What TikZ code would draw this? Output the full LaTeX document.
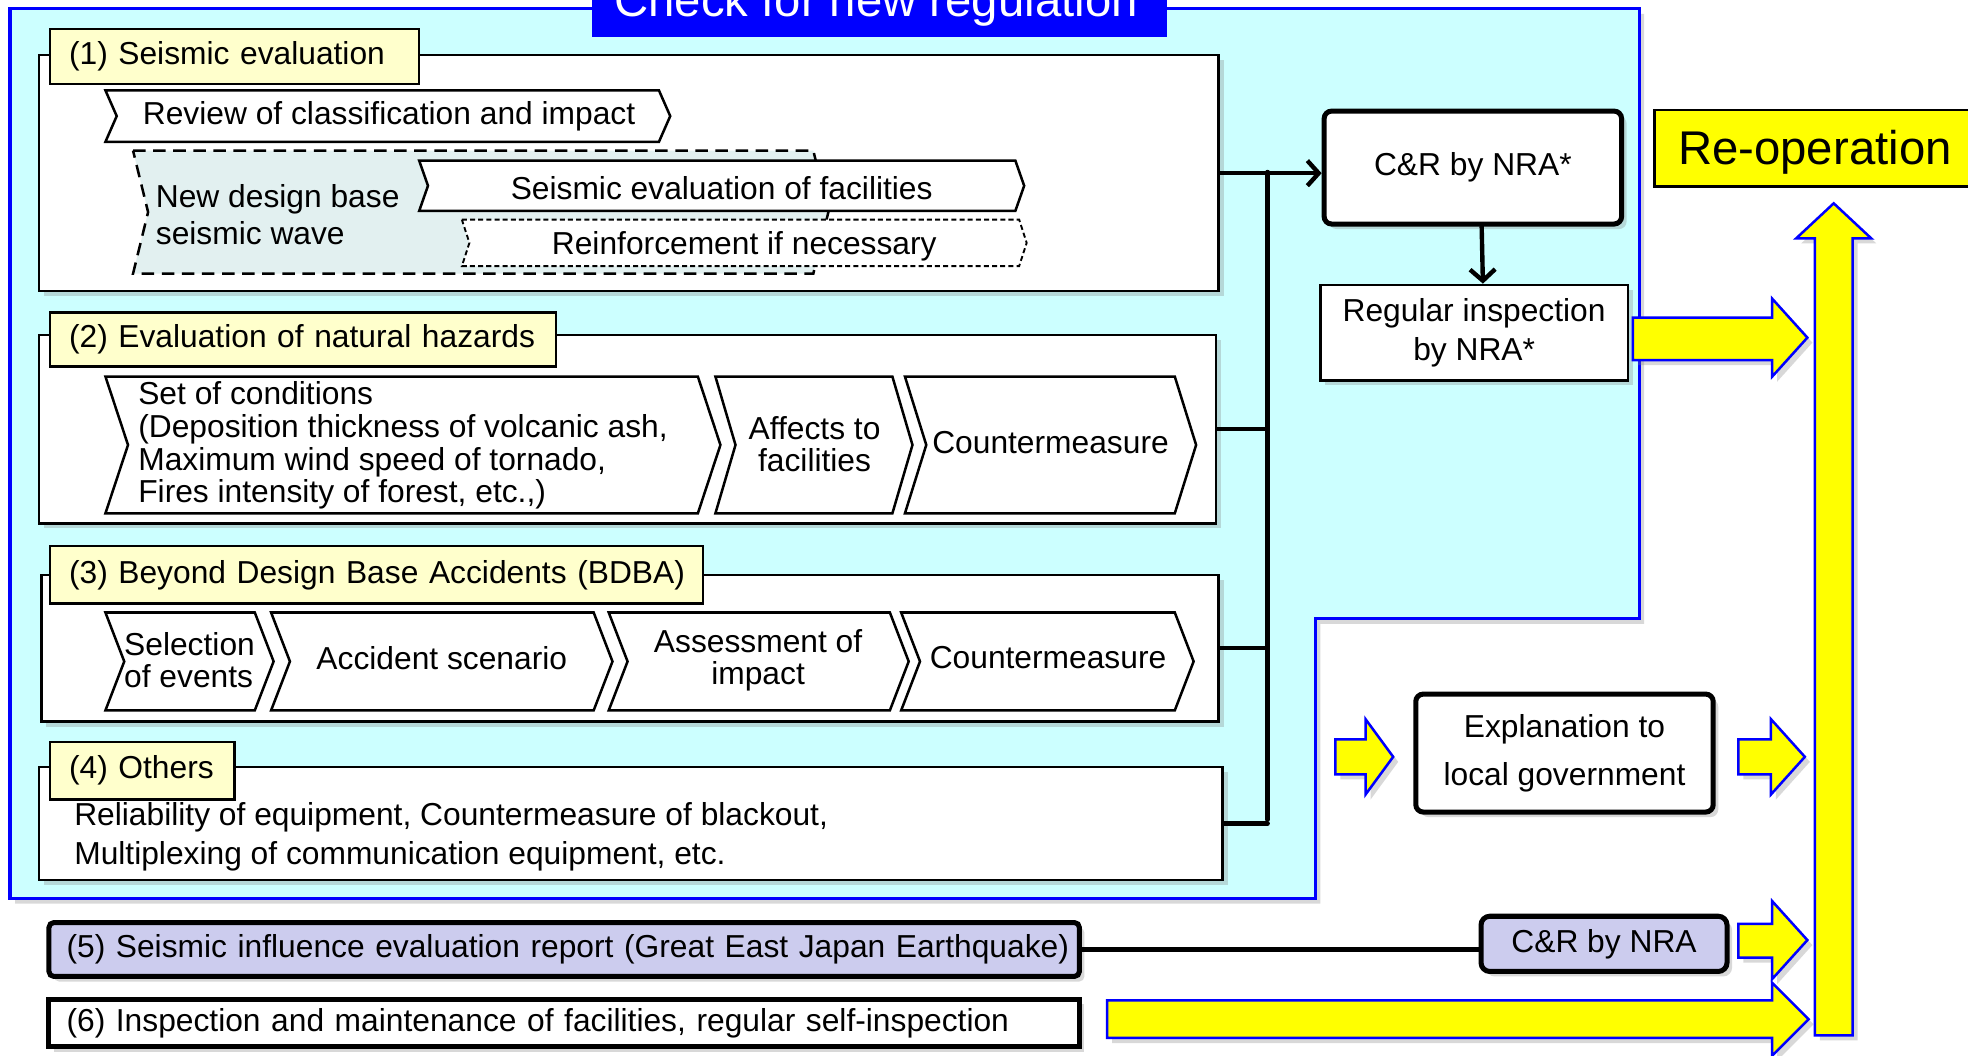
\documentclass[tikz,border=0pt]{standalone}
\usepackage{fontspec}
\setmainfont{Liberation Sans}
\usetikzlibrary{shadows,arrows.meta}
\definecolor{cyanbg}{HTML}{CCFFFF}
\definecolor{bluebd}{HTML}{0000FF}
\definecolor{lblfill}{HTML}{FFFFCC}
\definecolor{lav}{HTML}{CCCCEE}
\definecolor{tealfill}{HTML}{E2F0F0}
\definecolor{yel}{HTML}{FFFF00}
\newcommand\mychev[6][]{%
  \draw[chevst,#1] (#2,#4) -- ({#3-#6},#4) -- (#3,{(#4+#5)/2}) -- ({#3-#6},#5) -- (#2,#5) -- ({#2+#6},{(#4+#5)/2}) -- cycle;}
\tikzset{
  shad/.style={drop shadow={opacity=0.3, shadow xshift=4pt, shadow yshift=-4pt}},
  secbox/.style={draw, line width=2, fill=white, shad, inner sep=0, anchor=north west},
  lblbox/.style={draw, line width=2, fill=lblfill, anchor=north west, align=left, inner xsep=15, inner ysep=0},
  chevst/.style={draw, line width=2, fill=white, line join=miter},
  conn/.style={line width=3.5, line cap=round},
  bigarrow/.style={fill=yel, draw=bluebd, line width=2, line join=miter, shad},
  txt/.style={inner sep=0},
  barb/.style={-{Straight Barb[length=9pt, width=20pt, line width=3.5pt]}}
}
\begin{document}
\begin{tikzpicture}[x=1pt,y=-1pt,font=\fontsize{25.3}{30}\selectfont]
\useasboundingbox (0,0) rectangle (1568,841);
\clip (0,0) rectangle (1568,841);
\fill[white] (0,0) rectangle (1568,841);

% cyan region
\draw[fill=cyanbg, draw=bluebd, line width=2.5, shad] (8,7) -- (1306,7) -- (1306,493) -- (1048,493) -- (1048,716) -- (8,716) -- cycle;

% title
\node[fill=bluebd, minimum width=458, minimum height=80, anchor=south, inner sep=0] (titlebox) at (701,30) {};
\node[txt, text=white, font=\fontsize{37.7}{40}\selectfont, anchor=base] (title) at (698,13) {Check for new regulation};

% ---------- section 1
\node[secbox, minimum width=940, minimum height=188] (s1) at (30,43) {};
\node[lblbox, text width=264, minimum height=44] (l1) at (39,22) {\mbox{(1) Seismic evaluation}};
\mychev{84}{534}{72}{113}{9}
\node[txt] (t1a) at (310,93) {Review of classification and impact};
\mychev[fill=tealfill, dash pattern=on 10pt off 6pt]{106}{660}{120}{218}{12}
\node[txt, align=left, anchor=west, font=\fontsize{25.3}{30}\selectfont] (t1b) at (124,171) {New design base\\seismic wave};
\mychev{334}{816}{128}{168}{7}
\node[txt] (t1c) at (575,150) {Seismic evaluation of facilities};
\mychev[dash pattern=on 4pt off 2.5pt, line width=1.5]{368}{818}{175}{212}{6}
\node[txt] (t1d) at (593,196) {Reinforcement if necessary};

% ---------- section 2
\node[secbox, minimum width=938, minimum height=150] (s2) at (30,266) {};
\node[lblbox, text width=373, minimum height=43] (l2) at (39,248) {\mbox{(2) Evaluation of natural hazards}};
\mychev{84}{574}{300}{409}{18}
\node[txt, align=left, anchor=west, font=\fontsize{25.3}{26}\selectfont] (t2a) at (110,355) {Set of conditions\\(Deposition thickness of volcanic ash,\\Maximum wind speed of tornado,\\Fires intensity of forest, etc.,)};
\mychev{570}{727}{300}{409}{16}
\node[txt, align=center, font=\fontsize{25.3}{26}\selectfont] (t2b) at (649,354) {Affects to\\facilities};
\mychev{721}{953}{300}{409}{17}
\node[txt] (t2c) at (837,353) {Countermeasure};

% ---------- section 3
\node[secbox, minimum width=938, minimum height=117] (s3) at (32,457) {};
\node[lblbox, text width=490, minimum height=46] (l3) at (39,434) {\mbox{(3) Beyond Design Base Accidents (BDBA)}};
\mychev{84}{218}{488}{566}{15}
\node[txt, align=left, font=\fontsize{25.3}{26}\selectfont] (t3a) at (151,526) {Selection\\of events};
\mychev{216}{488}{488}{566}{15}
\node[txt] (t3b) at (352,524) {Accident scenario};
\mychev{485}{724}{488}{566}{15}
\node[txt, align=center, font=\fontsize{25.3}{26}\selectfont] (t3c) at (604,526) {Assessment of\\impact};
\mychev{718}{951}{488}{566}{15}
\node[txt] (t3d) at (835,524) {Countermeasure};

% ---------- section 4
\node[secbox, minimum width=943, minimum height=90] (s4) at (30,610) {};
\node[lblbox, text width=117, minimum height=46] (l4) at (39,590) {\mbox{(4) Others}};
\node[txt, align=left, anchor=west, font=\fontsize{25.3}{31}\selectfont] (t4) at (59,667) {Reliability of equipment, Countermeasure of blackout,\\Multiplexing of communication equipment, etc.};

% ---------- C&R and regular inspection
\node[draw, line width=4, rounded corners=6, fill=white, minimum width=237, minimum height=90, shad] (cr) at (1173.5,133.5) {C\&R by NRA*};
\node[draw, line width=2, fill=white, minimum width=245, minimum height=76, align=center, font=\fontsize{25.3}{31}\selectfont, shad] (ri) at (1174.5,265) {Regular inspection\\by NRA*};
\draw[conn, barb] ([xshift=7pt]cr.south) -- ([xshift=7pt]ri.north);

% junction connectors
\coordinate (jtop) at (1010,137);
\coordinate (jbot) at (1010,653);
\draw[conn, barb] (s1.east) -- (s1.east -| cr.west);
\draw[conn] (jtop) -- (jbot);
\draw[conn] (s2.east) -- (s2.east -| jtop);
\draw[conn] (s3.east) -- (s3.east -| jtop);
\draw[conn] (s4.east) -- (s4.east -| jtop);

% ---------- re-operation
\node[draw, line width=2, fill=yel, minimum width=256, minimum height=61, inner sep=0] (reop) at (1446,118) {};
\node[txt, font=\fontsize{37.7}{40}\selectfont, anchor=base] (reoptxt) at (1446,131) {Re-operation};
\draw[bigarrow] (1446,825) -- (1446,190) -- (1431,190) -- (1461,162) -- (1491,190) -- (1476,190) -- (1476,825) -- cycle;

% arrow from regular inspection
\draw[bigarrow] (1301,253) -- (1412,253) -- (1412,238) -- (1440,269) -- (1412,300) -- (1412,287) -- (1301,287) -- cycle;

% explanation
\draw[bigarrow] (1064,589) -- (1088,589) -- (1088,573) -- (1110,603) -- (1088,633) -- (1088,617) -- (1064,617) -- cycle;
\node[draw, line width=4, rounded corners=6, fill=white, minimum width=237, minimum height=94, align=center, font=\fontsize{25.3}{38}\selectfont, shad] (expl) at (1246.5,600) {Explanation to\\local government};
\draw[bigarrow] (1385,589) -- (1411,589) -- (1411,573) -- (1438,603) -- (1411,633) -- (1411,617) -- (1385,617) -- cycle;

% ---------- (5)
\node[draw, line width=4, rounded corners=4, fill=lav, minimum height=43, text width=793, inner xsep=14, inner ysep=0, align=left, anchor=north west, shad] (b5) at (37,733) {\mbox{(5) Seismic influence evaluation report (Great East Japan Earthquake)}};
\node[draw, line width=4, rounded corners=7, fill=lav, minimum width=196, minimum height=44, shad] (cr5) at (1278,752) {C\&R by NRA};
\draw[line width=3.5] (b5.east) -- (b5.east -| cr5.west);
\draw[bigarrow] (1385,736) -- (1412,736) -- (1412,718) -- (1440,749) -- (1412,780) -- (1412,763) -- (1385,763) -- cycle;

% ---------- (6)
\node[draw, line width=4, fill=white, minimum height=38, text width=793, inner xsep=14, inner ysep=0, align=left, anchor=north west, shad] (b6) at (37,794) {\mbox{(6) Inspection and maintenance of facilities, regular self-inspection}};
\draw[bigarrow] (882,797) -- (1412,797) -- (1412,783) -- (1441,812) -- (1412,841) -- (1412,827) -- (882,827) -- cycle;
\end{tikzpicture}
\end{document}
